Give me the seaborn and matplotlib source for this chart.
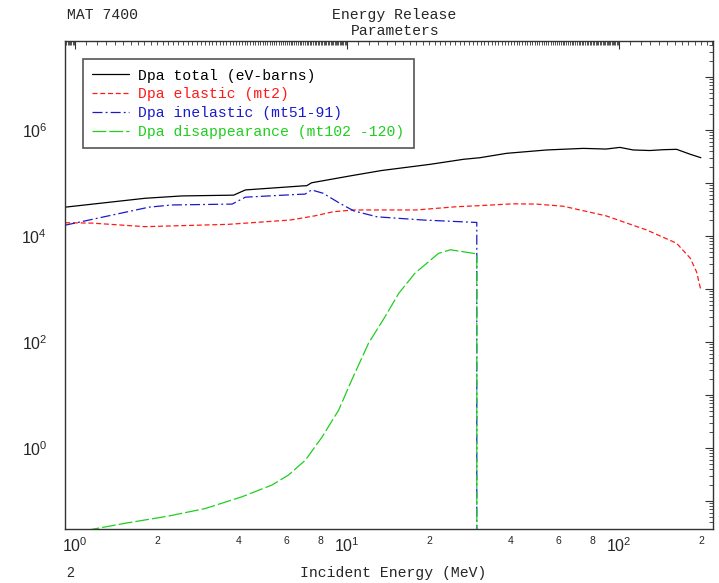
import numpy as np
import pandas as pd
import matplotlib
matplotlib.use("Agg")
import matplotlib.pyplot as plt
import seaborn as sns
from matplotlib.ticker import FixedLocator, FuncFormatter, NullFormatter, LogLocator

# ---- data ----
total_E = [0.92, 1.81, 2.47, 3.83, 4.23, 6.83, 7.11, 7.41, 10.26, 13.4, 20.2, 26.8, 30.8,
           38.6, 54.2, 73.9, 89.6, 100.7, 112.8, 129.8, 145.4, 162.8, 182.9, 200.0]
total_y = [35000, 51500, 57000, 59000, 74000, 88000, 89000, 101000, 136000, 172000, 225000,
           280000, 300000, 363000, 420000, 450000, 437000, 470000, 420000, 410000, 425000,
           432000, 348000, 300000]

elastic_E = [0.92, 1.155, 1.81, 3.67, 6.17, 7.62, 8.9, 10.6, 18.0, 25.3, 30.8, 40.8, 49.7,
             62.5, 89.6, 126.3, 162.8, 182.9, 192.8, 200.0]
elastic_y = [17800, 17500, 15000, 16600, 20000, 24000, 28700, 31000, 31000, 35700, 37400,
             40500, 40000, 36400, 24000, 13000, 7300, 3800, 2100, 950]

inelastic_E = [0.92, 1.87, 2.27, 3.78, 4.23, 6.83, 7.0, 7.41, 8.17, 9.4, 10.6, 12.9, 19.1,
               30.0, 30.0]
inelastic_y = [16000, 35000, 38500, 40000, 54000, 61500, 61500, 74000, 64000, 41500, 29700,
               23000, 20000, 18000, 1e-3]

disapp_E = [0.95, 1.19, 1.53, 2.21, 3.01, 4.11, 5.3, 6.1, 7.03, 8.09, 9.32, 10.4, 12.0, 13.8,
            15.5, 17.8, 21.7, 24.0, 30.0, 30.0]
disapp_y = [0.024, 0.030, 0.038, 0.052, 0.072, 0.12, 0.2, 0.31, 0.59, 1.6, 5.2, 19, 95, 300,
            830, 2000, 4700, 5500, 4600, 1e-3]

labels = ["Dpa total (eV-barns)", "Dpa elastic (mt2)", "Dpa inelastic (mt51-91)",
          "Dpa disappearance (mt102 -120)"]
colors = ["black", "#ff1a1a", "#1a1acc", "#1ecf1e"]

# ---- styling ----
sns.set_style("white")
plt.rcParams['font.family'] = ['Liberation Sans', 'DejaVu Sans']
plt.rcParams['mathtext.fontset'] = 'custom'
plt.rcParams['mathtext.rm'] = 'Liberation Sans'
plt.rcParams['mathtext.it'] = 'Liberation Sans:italic'
plt.rcParams['mathtext.bf'] = 'Liberation Sans:bold'

W, H = 719, 583
fig = plt.figure(figsize=(W / 100, H / 100), dpi=100)
fig.patch.set_facecolor("white")
ax = fig.add_axes([65.3 / W, 1 - 529 / H, (713 - 65.3) / W, (529 - 41) / H])

styles = ["-", (0, (4, 2.2)), (0, (8, 2.5, 1.5, 2.5)), (0, (11, 2.5))]
data_sets = [(total_E, total_y), (elastic_E, elastic_y), (inelastic_E, inelastic_y),
             (disapp_E, disapp_y)]
for (E, y), lab, col, ls in zip(data_sets, labels, colors, styles):
    df = pd.DataFrame({"E": E, "y": y})
    sns.lineplot(data=df, x="E", y="y", ax=ax, color=col, linewidth=0.9, sort=False,
                 estimator=None, label=lab, linestyle=ls)

ax.set_xscale("log")
ax.set_yscale("log")
ax.set_xlim(0.921, 221.6)
ax.set_ylim(0.0296, 4.78e7)
ax.set_xlabel("")
ax.set_ylabel("")

# x ticks
ax.xaxis.set_major_locator(FixedLocator([1, 10, 100]))
ax.xaxis.set_major_formatter(FuncFormatter(lambda v, p: r"$10^{%d}$" % int(round(np.log10(v)))))
minor_x = [round(d * (1 + 0.1 * i), 6) for d in [0.1, 1, 10, 100] for i in range(1, 90)]
ax.xaxis.set_minor_locator(FixedLocator(minor_x))

def minor_fmt(v, p):
    d = 10 ** np.floor(np.log10(v) + 1e-9)
    m = v / d
    for k in (2, 4, 6, 8):
        if abs(m - k) < 1e-6:
            return str(k)
    return ""
ax.xaxis.set_minor_formatter(FuncFormatter(minor_fmt))

# y ticks
ax.yaxis.set_major_locator(LogLocator(base=10, numticks=30))
ax.yaxis.set_major_formatter(FuncFormatter(
    lambda v, p: (r"$10^{%d}$" % int(round(np.log10(v)))) if int(round(np.log10(v))) % 2 == 0 else ""))
ax.yaxis.set_minor_locator(LogLocator(base=10, subs=np.arange(2, 10), numticks=30))
ax.yaxis.set_minor_formatter(NullFormatter())

ax.tick_params(which="both", direction="in", top=True, right=True, color="#333333")
ax.tick_params(which="major", length=6, width=0.8)
ax.tick_params(which="minor", length=3, width=0.6)
ax.tick_params(axis="x", which="major", labelsize=11.5, pad=5)
ax.tick_params(axis="x", which="minor", labelsize=7.5, pad=5)
ax.tick_params(axis="y", which="major", labelsize=11.5, pad=13)
for s in ax.spines.values():
    s.set_color("#333333")
    s.set_linewidth(1.0)

mono = "Liberation Mono"
leg = ax.legend(loc="upper left", bbox_to_anchor=(0.027, 0.963), borderaxespad=0,
                prop={"family": mono, "size": 10.6}, labelcolor="linecolor",
                frameon=True, fancybox=False, edgecolor="#555555", framealpha=1,
                handlelength=2.5, handletextpad=0.6, labelspacing=0.32, borderpad=0.65)
leg.get_frame().set_linewidth(1.2)

fig.text(67 / W, 1 - 15 / H, "MAT 7400", family=mono, size=10.6, ha="left", va="center")
fig.text(394 / W, 1 - 15 / H, "Energy Release", family=mono, size=10.6, ha="center", va="center")
fig.text(395 / W, 1 - 31 / H, "Parameters", family=mono, size=10.6, ha="center", va="center")
fig.text(393 / W, 1 - 573 / H, "Incident Energy (MeV)", family=mono, size=10.6,
         ha="center", va="center")
fig.text(70 / W, 1 - 573 / H, "2", family="Liberation Sans", size=10, ha="center", va="center")

fig.savefig("out.png", dpi=100)
